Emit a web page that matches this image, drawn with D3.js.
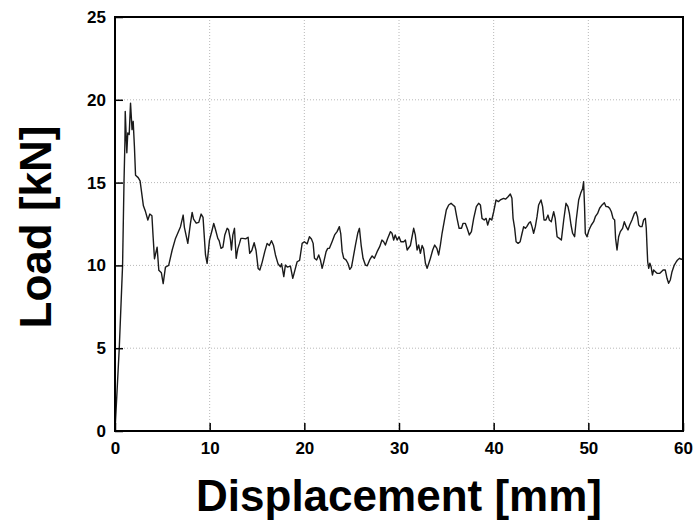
<!DOCTYPE html>
<html>
<head>
<meta charset="utf-8">
<script src="https://cdn.jsdelivr.net/npm/d3@7/dist/d3.min.js"></script>
<style>
  body { margin: 0; background: #fff; }
  .tick text { font-family: "Liberation Sans", Arial, sans-serif; font-weight: bold; font-size: 17px; fill: #000; }
  .grid { stroke: #b8b8b8; stroke-width: 1; stroke-dasharray: 1,2; }
  .curve { fill: none; stroke: #1a1a1a; stroke-width: 1.4; stroke-linejoin: round; }
  .title { font-family: "Liberation Sans", Arial, sans-serif; font-weight: bold; font-size: 44px; fill: #000; }
</style>
</head>
<body>
<div class="container"></div>
<script>
const WIDTH = 696;
const HEIGHT = 526;
const MARGIN = { top: 17, right: 13, bottom: 95, left: 115 };
const INNER_WIDTH = WIDTH - MARGIN.left - MARGIN.right;
const INNER_HEIGHT = HEIGHT - MARGIN.top - MARGIN.bottom;

// displacement [mm] and load [kN]
var displacement = [
  0, 0.45, 0.8, 0.95, 1.05, 1.08, 1.25, 1.35, 1.5, 1.64, 1.8, 1.92, 2.05, 2.17, 2.45, 2.65, 2.87, 3.0, 3.22, 3.47,
  3.68, 3.9, 4.03, 4.17, 4.45, 4.63, 4.9, 5.09, 5.33, 5.67, 6.04, 6.39, 6.92, 7.2, 7.33, 7.69, 7.97, 8.15, 8.3, 8.58,
  8.85, 9.1, 9.3, 9.56, 9.73, 9.98, 10.26, 10.43, 10.6, 10.86, 11.0, 11.2, 11.4, 11.6, 11.85, 12.0, 12.2, 12.3, 12.45, 12.62,
  12.8, 12.97, 13.15, 13.3, 13.5, 13.8, 14.06, 14.23, 14.45, 14.7, 14.9, 15.12, 15.3, 15.55, 15.82, 16.07, 16.3, 16.53, 16.75, 16.95,
  17.23, 17.48, 17.6, 17.83, 18.0, 18.2, 18.53, 18.78, 19.0, 19.24, 19.5, 19.77, 20.0, 20.3, 20.54, 20.75, 20.93, 21.07, 21.3, 21.52,
  21.7, 21.88, 22.05, 22.3, 22.47, 22.65, 22.93, 23.2, 23.46, 23.7, 23.85, 24.0, 24.16, 24.4, 24.6, 24.8, 24.98, 25.15, 25.4, 25.64,
  25.82, 26.0, 26.2, 26.45, 26.65, 26.9, 27.16, 27.4, 27.69, 27.96, 28.2, 28.38, 28.56, 28.8, 29.1, 29.26, 29.44, 29.6, 29.8, 30.0,
  30.2, 30.5, 30.68, 30.86, 31.2, 31.38, 31.55, 31.72, 31.91, 32.08, 32.26, 32.44, 32.6, 32.79, 32.97, 33.15, 33.32, 33.56, 33.77, 34.0,
  34.19, 34.37, 34.55, 34.8, 35.0, 35.25, 35.5, 35.7, 35.9, 36.13, 36.35, 36.6, 36.77, 37.0, 37.2, 37.43, 37.65, 37.89, 38.17, 38.41,
  38.6, 38.77, 39.0, 39.2, 39.37, 39.58, 39.8, 40.0, 40.25, 40.5, 40.7, 41.05, 41.25, 41.52, 41.76, 41.93, 42.05, 42.22, 42.37, 42.58,
  42.8, 43.0, 43.17, 43.35, 43.5, 43.7, 43.88, 44.05, 44.22, 44.4, 44.58, 44.75, 45.0, 45.17, 45.32, 45.52, 45.74, 45.88, 46.09, 46.34,
  46.5, 46.7, 46.94, 47.15, 47.4, 47.64, 47.85, 48.0, 48.17, 48.34, 48.55, 48.72, 48.98, 49.19, 49.4, 49.5, 49.6, 49.68, 49.86, 50.07,
  50.32, 50.56, 50.74, 50.98, 51.19, 51.45, 51.69, 51.86, 52.05, 52.25, 52.43, 52.61, 52.78, 52.88, 53.03, 53.2, 53.38, 53.62, 53.8, 54.0,
  54.19, 54.37, 54.61, 54.86, 55.04, 55.2, 55.32, 55.5, 55.67, 55.84, 56.02, 56.12, 56.2, 56.27, 56.38, 56.5, 56.63, 56.77, 56.9, 57.08,
  57.26, 57.55, 57.72, 57.9, 58.13, 58.31, 58.48, 58.66, 58.84, 59.08, 59.29, 59.43, 59.64, 59.82, 60.0
];
var load = [
  0, 5, 10, 15, 17.5, 19.3, 16.8, 18.0, 17.9, 19.8, 18.2, 18.7, 17.2, 15.45, 15.3, 15.1, 14.15, 13.6, 13.25, 12.74,
  13.1, 13.0, 11.7, 10.4, 11.1, 9.7, 9.55, 8.9, 9.9, 10.0, 10.93, 11.63, 12.34, 13.04, 12.3, 11.33, 12.54, 13.2, 12.8, 12.55,
  12.6, 13.1, 12.9, 10.63, 10.12, 11.53, 12.14, 12.54, 12.2, 11.63, 11.5, 11.03, 11.1, 11.84, 12.24, 12.15, 11.53, 10.93, 11.84, 12.24,
  10.43, 11.0, 11.33, 11.63, 11.63, 11.6, 11.7, 10.73, 10.9, 11.37, 10.9, 9.82, 9.72, 10.2, 10.83, 11.33, 11.2, 11.49, 11.2, 10.63,
  10.08, 9.92, 10.1, 9.32, 10.02, 9.9, 9.96, 9.22, 9.7, 10.22, 10.3, 11.33, 11.43, 11.3, 11.73, 11.6, 11.33, 10.43, 10.33, 10.63,
  10.33, 9.82, 10.2, 10.83, 11.03, 11.03, 11.43, 11.84, 12.04, 12.34, 11.9, 10.83, 10.43, 10.33, 10.13, 9.76, 9.9, 10.43, 11.23, 11.94,
  12.24, 11.23, 10.43, 10.02, 9.98, 10.33, 10.57, 10.43, 10.83, 11.13, 11.53, 11.43, 11.23, 11.63, 12.04, 11.94, 11.53, 11.84, 11.53, 11.73,
  11.43, 11.43, 11.53, 10.93, 11.2, 11.73, 12.24, 11.84, 10.93, 11.23, 10.73, 11.2, 11.0, 10.13, 9.82, 10.13, 10.43, 10.93, 11.23, 11.03,
  10.63, 11.23, 11.94, 12.74, 13.35, 13.65, 13.75, 13.65, 13.55, 12.84, 12.24, 12.24, 12.54, 12.54, 12.24, 11.84, 12.04, 12.84, 13.55, 13.75,
  13.65, 12.84, 12.74, 12.84, 12.44, 12.84, 12.74, 13.24, 13.95, 13.85, 13.95, 14.05, 14.0, 14.15, 14.31, 14.05, 12.84, 12.24, 11.43, 11.33,
  11.43, 11.94, 12.34, 12.24, 12.34, 12.54, 12.64, 12.34, 11.94, 12.34, 12.94, 13.65, 13.95, 13.55, 12.74, 12.74, 13.04, 12.74, 12.64, 13.24,
  12.84, 11.73, 11.63, 11.53, 12.74, 13.75, 13.55, 13.14, 12.44, 11.94, 11.73, 12.74, 13.95, 14.35, 14.65, 15.05, 13.55, 11.94, 11.73, 12.14,
  12.44, 12.64, 12.94, 13.14, 13.45, 13.65, 13.79, 13.55, 13.55, 13.45, 13.24, 12.84, 12.74, 11.63, 10.93, 11.73, 12.04, 12.24, 12.64, 12.34,
  12.14, 12.44, 12.74, 13.14, 13.24, 12.94, 12.44, 12.34, 12.34, 12.74, 12.84, 12.24, 11.13, 10.22, 9.82, 10.13, 9.92, 9.42, 9.72, 9.62,
  9.52, 9.52, 9.62, 9.72, 9.72, 9.22, 8.92, 9.12, 9.62, 10.02, 10.22, 10.33, 10.43, 10.37, 10.4
];

var xTicks = [0, 10, 20, 30, 40, 50, 60];
var yTicks = [0, 5, 10, 15, 20, 25];

var translate = function (x, y) {
  return "translate(" + x + "," + y + ")";
};

var svg = d3.select('.container').append('svg')
  .attr('width', WIDTH)
  .attr('height', HEIGHT);

var xScale = d3.scaleLinear().domain([0, 60]).range([0, INNER_WIDTH]);
var yScale = d3.scaleLinear().domain([0, 25]).range([INNER_HEIGHT, 0]);

var g = svg.append('g').attr('transform', translate(MARGIN.left, MARGIN.top));

// dotted grid
g.selectAll('.gx').data(xTicks.slice(1, -1))
  .enter().append('line')
  .classed('grid', true)
  .attr('x1', function (d) { return xScale(d); })
  .attr('x2', function (d) { return xScale(d); })
  .attr('y1', 0)
  .attr('y2', INNER_HEIGHT);
g.selectAll('.gy').data(yTicks.slice(1, -1))
  .enter().append('line')
  .classed('grid', true)
  .attr('x1', 0)
  .attr('x2', INNER_WIDTH)
  .attr('y1', function (d) { return yScale(d); })
  .attr('y2', function (d) { return yScale(d); });

// curve
var line = d3.line()
  .x(function (d, i) { return xScale(displacement[i]); })
  .y(function (d) { return yScale(d); });

g.append('path')
  .classed('curve', true)
  .attr('d', line(load));

// axes with inward ticks
var xAxis = d3.axisBottom(xScale).tickValues(xTicks).tickSize(-8).tickPadding(11).tickSizeOuter(0);
var yAxis = d3.axisLeft(yScale).tickValues(yTicks).tickSize(-8).tickPadding(9).tickSizeOuter(0);

g.append('g').attr('transform', translate(0, INNER_HEIGHT)).call(xAxis);
g.append('g').call(yAxis);
g.selectAll('.domain').remove();
g.selectAll('.tick line').attr('stroke', '#000').attr('stroke-width', 1.5);

// frame
g.append('rect')
  .attr('width', INNER_WIDTH)
  .attr('height', INNER_HEIGHT)
  .attr('fill', 'none')
  .attr('stroke', '#000')
  .attr('stroke-width', 2);

// titles
svg.append('text')
  .classed('title', true)
  .attr('x', MARGIN.left + INNER_WIDTH / 2)
  .attr('y', 511)
  .attr('text-anchor', 'middle')
  .text('Displacement [mm]');

svg.append('text')
  .classed('title', true)
  .attr('transform', translate(51, MARGIN.top + INNER_HEIGHT / 2 + 3) + ' rotate(-90)')
  .attr('text-anchor', 'middle')
  .text('Load [kN]');
</script>
</body>
</html>
